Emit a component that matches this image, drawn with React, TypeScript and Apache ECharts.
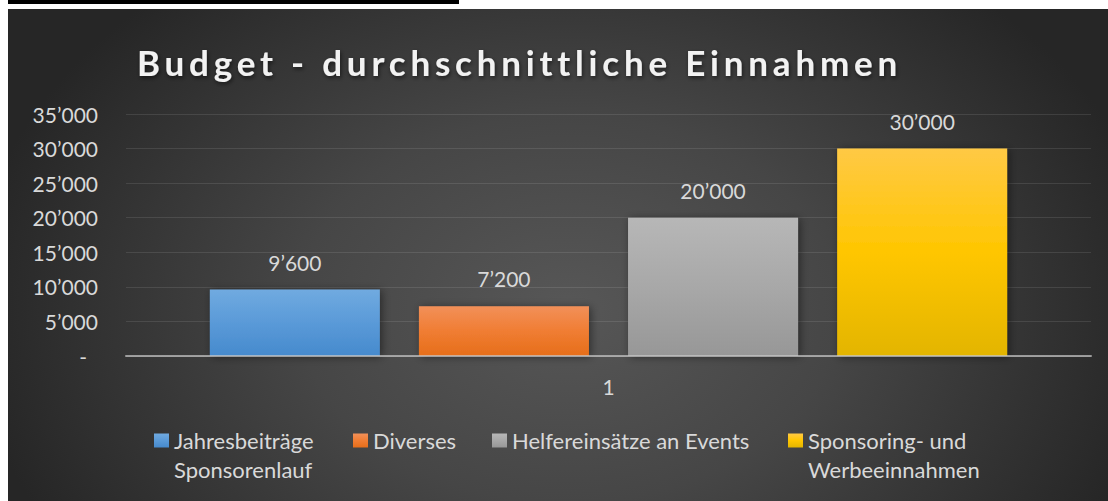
import React, { useEffect, useRef } from "react";
import * as echarts from "echarts";

const TITLE = "Budget - durchschnittliche Einnahmen";
const CATEGORIES = ["1"];
const SERIES_NAMES = [
  "Jahresbeiträge Sponsorenlauf",
  "Diverses",
  "Helfereinsätze an Events",
  "Sponsoring- und Werbeeinnahmen",
];
const LEGEND_LABELS = [
  "Jahresbeiträge\nSponsorenlauf",
  "Diverses",
  "Helfereinsätze an Events",
  "Sponsoring- und\nWerbeeinnahmen",
];
const VALUES = [9600, 7200, 20000, 30000];
const Y_MIN = 0;
const Y_MAX = 35000;
const Y_STEP = 5000;

const BAR_GRADIENTS = [
  ["#70aae0", "#5a9ad8", "#468acd"],
  ["#f29059", "#f07d33", "#e66e1a"],
  ["#b7b7b7", "#a8a8a8", "#979797"],
  ["#ffc945", "#ffc600", "#e3b500"],
];

const LEGEND_LEFT = [146, 345, 484, 780];

const FONT = "Lato";
const TEXT_COLOR = "#d9d9d9";

function fmt(n: number): string {
  if (n === 0) return "-";
  return String(n).replace(/\B(?=(\d{3})+(?!\d))/g, "\u2019");
}

function grad(c: string[]) {
  return new echarts.graphic.LinearGradient(0, 0, 0, 1, [
    { offset: 0, color: c[0] },
    { offset: 0.5, color: c[1] },
    { offset: 1, color: c[2] },
  ]);
}

export default function App() {
  const ref = useRef<HTMLDivElement>(null);
  useEffect(() => {
    if (!ref.current) return;
    const chart = echarts.init(ref.current, null, { renderer: "svg" });
    const series = SERIES_NAMES.map((name, i) => ({
      name,
      type: "bar",
      data: [VALUES[i]],
      barWidth: 170,
      barGap: "23%",
      itemStyle: {
        color: grad(BAR_GRADIENTS[i]),
        shadowBlur: 8,
        shadowColor: "rgba(0,0,0,0.45)",
        shadowOffsetX: 2,
        shadowOffsetY: 1,
      },
      label: {
        show: true,
        position: "top",
        distance: 17,
        color: TEXT_COLOR,
        fontFamily: FONT,
        fontSize: 21,
        formatter: (p: any) => fmt(p.value),
      },
    }));
    const legends = SERIES_NAMES.map((name, i) => {
      const twoLines = LEGEND_LABELS[i].includes("\n");
      return {
        data: [name],
        left: LEGEND_LEFT[i],
        top: twoLines ? 388 : 417,
        padding: 0,
        itemWidth: 15,
        itemHeight: 14,
        icon: "rect",
        selectedMode: false,
        // a leading empty line keeps the first text line level with the marker
        formatter: () => (twoLines ? "\n" + LEGEND_LABELS[i] : LEGEND_LABELS[i]),
        textStyle: {
          color: TEXT_COLOR,
          fontFamily: FONT,
          fontSize: 22,
          lineHeight: 29,
        },
      };
    });
    chart.setOption({
      animation: false,
      backgroundColor: "transparent",
      title: {
        text: TITLE,
        left: 129,
        top: 35,
        padding: 0,
        textStyle: {
          color: "#f2f2f2",
          fontFamily: FONT,
          fontWeight: "bold",
          fontSize: 35,
          textShadowColor: "rgba(0,0,0,0.55)",
          textShadowBlur: 4,
          textShadowOffsetX: 1,
          textShadowOffsetY: 2,
        },
      },
      legend: legends,
      grid: { left: 118, right: 17, top: 105, bottom: 145, containLabel: false },
      xAxis: {
        type: "category",
        data: CATEGORIES,
        z: 10,
        axisLine: { show: true, lineStyle: { color: "rgba(200,200,200,0.7)", width: 2 } },
        axisTick: { show: false },
        axisLabel: { color: TEXT_COLOR, fontFamily: FONT, fontSize: 21, margin: 20 },
      },
      yAxis: {
        type: "value",
        min: Y_MIN,
        max: Y_MAX,
        interval: Y_STEP,
        axisLine: { show: false },
        axisTick: { show: false },
        splitLine: { lineStyle: { color: "rgba(255,255,255,0.1)", width: 1 } },
        axisLabel: {
          color: TEXT_COLOR,
          fontFamily: FONT,
          fontSize: 21,
          margin: 28,
          formatter: (v: number) => (v === 0 ? "{z|-}" : fmt(v)),
          rich: {
            z: { color: TEXT_COLOR, fontFamily: FONT, fontSize: 21, padding: [0, 11, 0, 0] },
          },
        },
      },
      series,
    });
    const applySpacing = () => {
      const svg = ref.current?.querySelector("svg");
      if (!svg) return;
      svg.querySelectorAll("text").forEach((t: any) => {
        if (t.textContent === TITLE && typeof t.getComputedTextLength === "function") {
          t.setAttribute("letter-spacing", "0");
          const len = t.getComputedTextLength();
          const ls = (759 - len) / (TITLE.length - 1);
          t.setAttribute("letter-spacing", String(ls.toFixed(2)));
        }
      });
    };
    applySpacing();
    chart.on("finished", applySpacing);
    return () => chart.dispose();
  }, []);
  return (
    <>
      <div
        style={{ position: "absolute", left: 8, top: 0, width: 451, height: 4, background: "#000" }}
      />
      <div
        style={{
          position: "absolute",
          left: 8,
          top: 9,
          width: 1100,
          height: 492,
          background:
            "radial-gradient(ellipse 600px 430px at 560px 300px, #575757 0%, #464646 45%, #262626 100%)",
        }}
      >
        <div ref={ref} style={{ width: 1100, height: 492 }} />
      </div>
    </>
  );
}
